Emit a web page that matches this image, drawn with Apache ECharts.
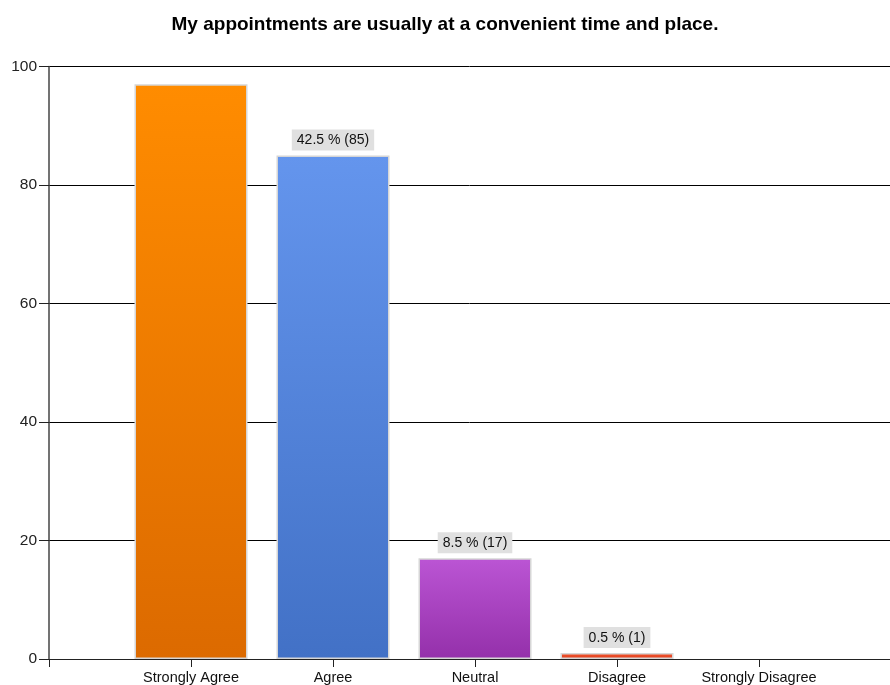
<!DOCTYPE html>
<html>
<head>
<meta charset="utf-8">
<script src="https://cdn.jsdelivr.net/npm/echarts@6/dist/echarts.min.js"></script>
<style>
  html, body { margin: 0; padding: 0; background: #fff; }
  #chart { width: 890px; height: 685px; }
</style>
</head>
<body>
<div id="chart"></div>
<script>
// Survey responses
const categories = ['Strongly Agree', 'Agree', 'Neutral', 'Disagree', 'Strongly Disagree'];
const responses = [97, 85, 17, 1, 0];
const showLabel = [false, true, true, true, false];
const yTicks = [0, 20, 40, 60, 80, 100];

// Gradient colours per answer: [top, bottom]
const barColors = [
  ['#FF8C00', '#DC6A00'],
  ['#6495ED', '#4271C6'],
  ['#BB55D4', '#9430AA'],
  ['#F2552E', '#DE3E1E']
];

const total = responses.reduce((a, b) => a + b, 0);
const slot = 142;           // pixel width of one answer slot
const plotWidth = 841;      // pixel width of the plot area
const font = 'Liberation Sans, Arial, sans-serif';

const chart = echarts.init(document.getElementById('chart'));

const data = responses.map((v, i) => {
  const c = barColors[i % barColors.length];
  return {
    value: [i + 1, v],
    itemStyle: {
      color: new echarts.graphic.LinearGradient(0, 0, 0, 1, [
        { offset: 0, color: c[0] },
        { offset: 1, color: c[1] }
      ]),
      borderWidth: v > 0 ? 1.5 : 0
    },
    label: { show: showLabel[i] }
  };
});

chart.setOption({
  animation: false,
  title: {
    text: 'My appointments are usually at a convenient time and place.',
    left: 'center',
    top: 10,
    textStyle: {
      fontFamily: font,
      fontSize: 19,
      fontWeight: 'bold',
      color: '#000'
    }
  },
  grid: { left: 49, right: 0, top: 66.5, bottom: 26, containLabel: false },
  xAxis: {
    type: 'value',
    min: 0,
    max: plotWidth / slot,
    interval: 1,
    splitLine: { show: false },
    axisLine: { show: true, lineStyle: { color: '#222', width: 1 } },
    axisTick: { show: true, length: 8, lineStyle: { color: '#222' }, customValues: [0, 1, 2, 3, 4, 5] },
    axisLabel: {
      customValues: [1, 2, 3, 4, 5],
      formatter: v => categories[Math.round(v) - 1] || '',
      fontFamily: font,
      fontSize: 14.5,
      color: '#111',
      margin: 11
    }
  },
  yAxis: {
    type: 'value',
    min: 0,
    max: 100,
    interval: 20,
    axisLine: { show: true, lineStyle: { color: '#444', width: 1.5 } },
    axisTick: { show: true, length: 10, lineStyle: { color: '#222' } },
    splitLine: { show: true, lineStyle: { color: '#000', width: 1 } },
    axisLabel: {
      customValues: yTicks,
      fontFamily: font,
      fontSize: 15.5,
      color: '#222',
      margin: 12
    }
  },
  series: [{
    type: 'bar',
    barWidth: 113,
    data: data,
    itemStyle: { borderColor: '#D6D6D6' },
    label: {
      position: 'top',
      distance: 5,
      formatter: p => (p.value[1] / total * 100).toFixed(1) + ' % (' + p.value[1] + ')',
      fontFamily: font,
      fontSize: 14,
      color: '#111',
      backgroundColor: '#E0E0E0',
      padding: [4, 5, 3, 5]
    }
  }]
});
</script>
</body>
</html>
